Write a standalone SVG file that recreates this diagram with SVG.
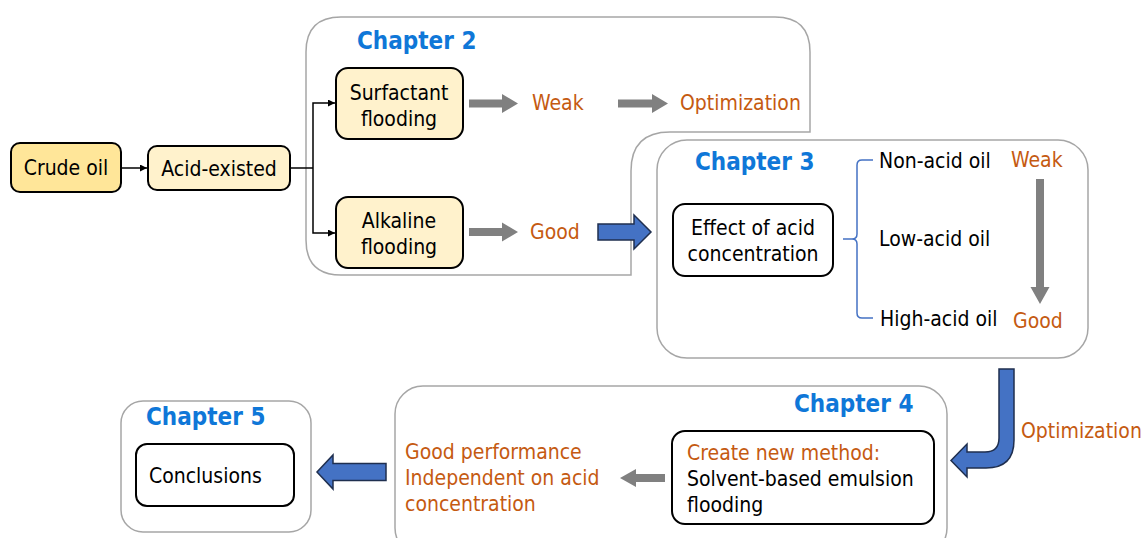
<svg xmlns="http://www.w3.org/2000/svg" width="1144" height="538" viewBox="0 0 1144 538">
<defs>
<style>
text{font-family:"DejaVu Sans Condensed","DejaVu Sans","Liberation Sans",sans-serif;font-stretch:condensed;font-size:21px;fill:#000}
.ch{font-weight:bold;font-size:24px;fill:#0F77D8}
.or{fill:#C55A11}
.frame{fill:#fff;stroke:#A6A6A6;stroke-width:1.5}
.box{fill:#fff;stroke:#000;stroke-width:2}
.yel{fill:#FFF2CC;stroke:#000;stroke-width:2}
.yel2{fill:#FFE699;stroke:#000;stroke-width:2}
.thin{fill:none;stroke:#000;stroke-width:1.5}
.gray{fill:#808080;stroke:none}
.blue{fill:#4472C4;stroke:#1F2F4F;stroke-width:1.5;stroke-linejoin:miter}
.brace{fill:none;stroke:#4472C4;stroke-width:1.5}
</style>
<marker id="ah" viewBox="0 0 10 10" refX="10" refY="5" markerWidth="7" markerHeight="7" markerUnits="userSpaceOnUse" orient="auto"><path d="M0,0 L10,5 L0,10 Z" fill="#000"/></marker>
</defs>

<g id="chapter2-frame">
<path class="frame" d="M341,17 L775,17 Q810,17 810,52 L810,132 L670,132 Q631,132 631,171 L631,275 L341,275 Q306,275 306,240 L306,52 Q306,17 341,17 Z"/>
<text class="ch" x="357" y="49">Chapter 2</text>
</g>

<g id="chapter3-frame">
<rect class="frame" x="657" y="140" width="431" height="218" rx="30"/>
<text class="ch" x="695" y="170">Chapter 3</text>
</g>

<g id="chapter4-frame">
<rect class="frame" x="395" y="386" width="552" height="170" rx="28"/>
<text class="ch" x="794" y="412">Chapter 4</text>
</g>

<g id="chapter5-frame">
<rect class="frame" x="121" y="401" width="190" height="131" rx="22"/>
<text class="ch" x="146" y="425">Chapter 5</text>
</g>

<g id="crude-oil">
<rect class="yel2" x="11" y="143" width="110" height="49" rx="9"/>
<text x="66" y="175" text-anchor="middle">Crude oil</text>
</g>

<g id="acid-existed">
<rect class="yel" x="148" y="146" width="142" height="44" rx="9"/>
<text x="219" y="176" text-anchor="middle">Acid-existed</text>
</g>

<g id="surfactant">
<rect class="yel" x="336" y="68" width="127" height="71" rx="12"/>
<text x="399" y="100" text-anchor="middle">Surfactant</text>
<text x="399" y="126" text-anchor="middle">flooding</text>
</g>

<g id="alkaline">
<rect class="yel" x="336" y="197" width="127" height="71" rx="12"/>
<text x="399" y="228" text-anchor="middle">Alkaline</text>
<text x="399" y="254" text-anchor="middle">flooding</text>
</g>

<g id="ch2-results">
<text class="or" x="532" y="110">Weak</text>
<text class="or" x="680" y="110">Optimization</text>
<text class="or" x="530" y="239">Good</text>
</g>

<g id="effect-acid">
<rect class="box" x="673" y="204" width="160" height="72" rx="12"/>
<text x="753" y="235" text-anchor="middle">Effect of acid</text>
<text x="753" y="261" text-anchor="middle">concentration</text>
</g>

<g id="oil-types">
<text x="879" y="168">Non-acid oil</text>
<text x="879" y="246">Low-acid oil</text>
<text x="880" y="326">High-acid oil</text>
<text class="or" x="1011" y="167">Weak</text>
<text class="or" x="1013" y="328">Good</text>
</g>

<g id="new-method">
<rect class="box" x="672" y="431" width="262" height="93" rx="13"/>
<text class="or" x="687" y="460">Create new method:</text>
<text x="687" y="486">Solvent-based emulsion</text>
<text x="687" y="512">flooding</text>
</g>

<g id="good-performance">
<text class="or" x="405" y="459">Good performance</text>
<text class="or" x="405" y="485">Independent on acid</text>
<text class="or" x="405" y="511">concentration</text>
</g>

<g id="optimization-label">
<text class="or" x="1021" y="438">Optimization</text>
</g>

<g id="conclusions">
<rect class="box" x="136" y="444" width="158" height="62" rx="11"/>
<text x="149" y="483">Conclusions</text>
</g>

<g id="connectors">
<line class="thin" x1="121" y1="168" x2="147" y2="168" marker-end="url(#ah)"/>
<polyline class="thin" points="290,168 313,168"/>
<polyline class="thin" points="313,168 313,103 335,103" marker-end="url(#ah)"/>
<polyline class="thin" points="313,168 313,233 335,233" marker-end="url(#ah)"/>
<path class="gray" d="M469,99.5 L502,99.5 L502,94 L518,103.5 L502,113 L502,107.5 L469,107.5 Z"/>
<path class="gray" d="M618,99.5 L652,99.5 L652,94 L668,103.5 L652,113 L652,107.5 L618,107.5 Z"/>
<path class="gray" d="M469,228 L502,228 L502,222.5 L518,232 L502,241.5 L502,236 L469,236 Z"/>
<path class="blue" d="M598,224 L634,224 L634,215 L651,232 L634,249 L634,240 L598,240 Z"/>
<path class="brace" d="M843,239 L852,239 Q857,239 857,234 L857,165 Q857,160 862,160 L873,160 M852,239 Q857,239 857,244 L857,313 Q857,318 862,318 L873,318"/>
<path class="gray" d="M1036,179 L1044,179 L1044,287 L1049.5,287 L1040,304 L1030.5,287 L1036,287 Z"/>
<path class="blue" d="M999,369 L1014,369 L1014,440 Q1014,468 986,468 L967,468 L967,477 L951,460.5 L967,444 L967,452 L985,452 Q999,452 999,438 Z"/>
<path class="gray" d="M665,474 L636,474 L636,469 L620,478 L636,487 L636,482 L665,482 Z"/>
<path class="blue" d="M386,463.5 L333,463.5 L333,455 L317,472 L333,489 L333,480.5 L386,480.5 Z"/>
</g>
</svg>
